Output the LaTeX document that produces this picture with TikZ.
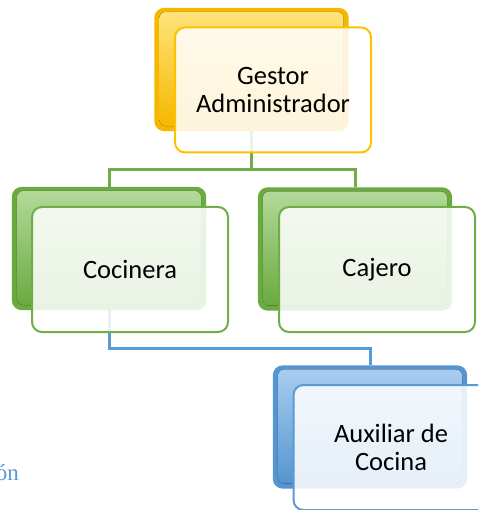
\documentclass[tikz,border=0pt]{standalone}
\usepackage{fontspec}
\setmainfont{Carlito}
\newfontfamily\capfont{Liberation Serif}
\usetikzlibrary{calc}
\definecolor{ybase}{HTML}{F5B800}
\definecolor{ylight}{HTML}{FFE37A}
\definecolor{yline}{HTML}{FFC000}
\definecolor{gbase}{HTML}{6AAA40}
\definecolor{glight}{HTML}{B3D99A}
\definecolor{gline}{HTML}{70AD47}
\definecolor{bbase}{HTML}{5595D0}
\definecolor{blight}{HTML}{A8CDF0}
\definecolor{bline}{HTML}{5B9BD5}
\tikzset{
  backbox/.style={rounded corners=10pt, minimum width=194pt, minimum height=123pt, inner sep=0pt, draw=none},
  frontbox/.style={rounded corners=10pt, minimum width=196pt, minimum height=125pt, inner sep=0pt,
    fill=white, fill opacity=0.86, text opacity=1, line width=2pt, align=center,
    font=\fontsize{26.5}{28.5}\selectfont, text=black},
  conn/.style={line width=3pt},
}
\newcommand{\glossyhl}[3]{%
  \fill[rounded corners=7pt, top color=#2, bottom color=#3]
    ($(#1.north west)+(5,4)$) rectangle ($(#1.south east)+(-5,-5)$);}
\begin{document}
\begin{tikzpicture}[x=1pt,y=-1pt]
\useasboundingbox (0,0) rectangle (478,510);
\fill[white] (0,0) rectangle (478,510);
\clip (0,0) rectangle (478,510);

% back boxes (positions only, drawn later)
\path (251.5,69.5) node[backbox] (gb) {};
\path (109,248.5) node[backbox] (cb) {};
\path (355,249) node[backbox] (jb) {};
\path (370,427) node[backbox] (ab) {};

% connectors
\coordinate (j1) at (251.5,170);
\coordinate (j2) at (109,348);
\draw[conn, gline] (gb.south) -- (j1) -| (cb.north);
\draw[conn, gline] (j1) -| (jb.north);
\draw[conn, bline] (cb.south) -- (j2) -| (ab.north);

% back boxes filled
\fill[ybase, rounded corners=10pt] (gb.north west) rectangle (gb.south east);
\glossyhl{gb}{ylight}{ybase}
\fill[gbase, rounded corners=10pt] (cb.north west) rectangle (cb.south east);
\glossyhl{cb}{glight}{gbase}
\fill[gbase, rounded corners=10pt] (jb.north west) rectangle (jb.south east);
\glossyhl{jb}{glight}{gbase}
\fill[bbase, rounded corners=10pt] (ab.north west) rectangle (ab.south east);
\glossyhl{ab}{blight}{bbase}

% front boxes
\node[frontbox, draw=yline] (g) at (273,90) {Gestor\\Administrador};
\node[frontbox, draw=gline] (c) at (130,269.5) {Cocinera};
\node[frontbox, draw=gline] (j) at (377,269.5) {Cajero};
\node[frontbox, draw=bline] (a) at (391.5,447.5) {};
\node[align=center, font=\fontsize{26.5}{28.5}\selectfont, text=black] (atext) at (391,447.5) {Auxiliar de\\Cocina};

% caption fragment
\node[font=\capfont\fontsize{23}{26}\selectfont, text=bline, anchor=base east, inner sep=0pt] (cap) at (19,480) {ón};
\end{tikzpicture}
\end{document}
